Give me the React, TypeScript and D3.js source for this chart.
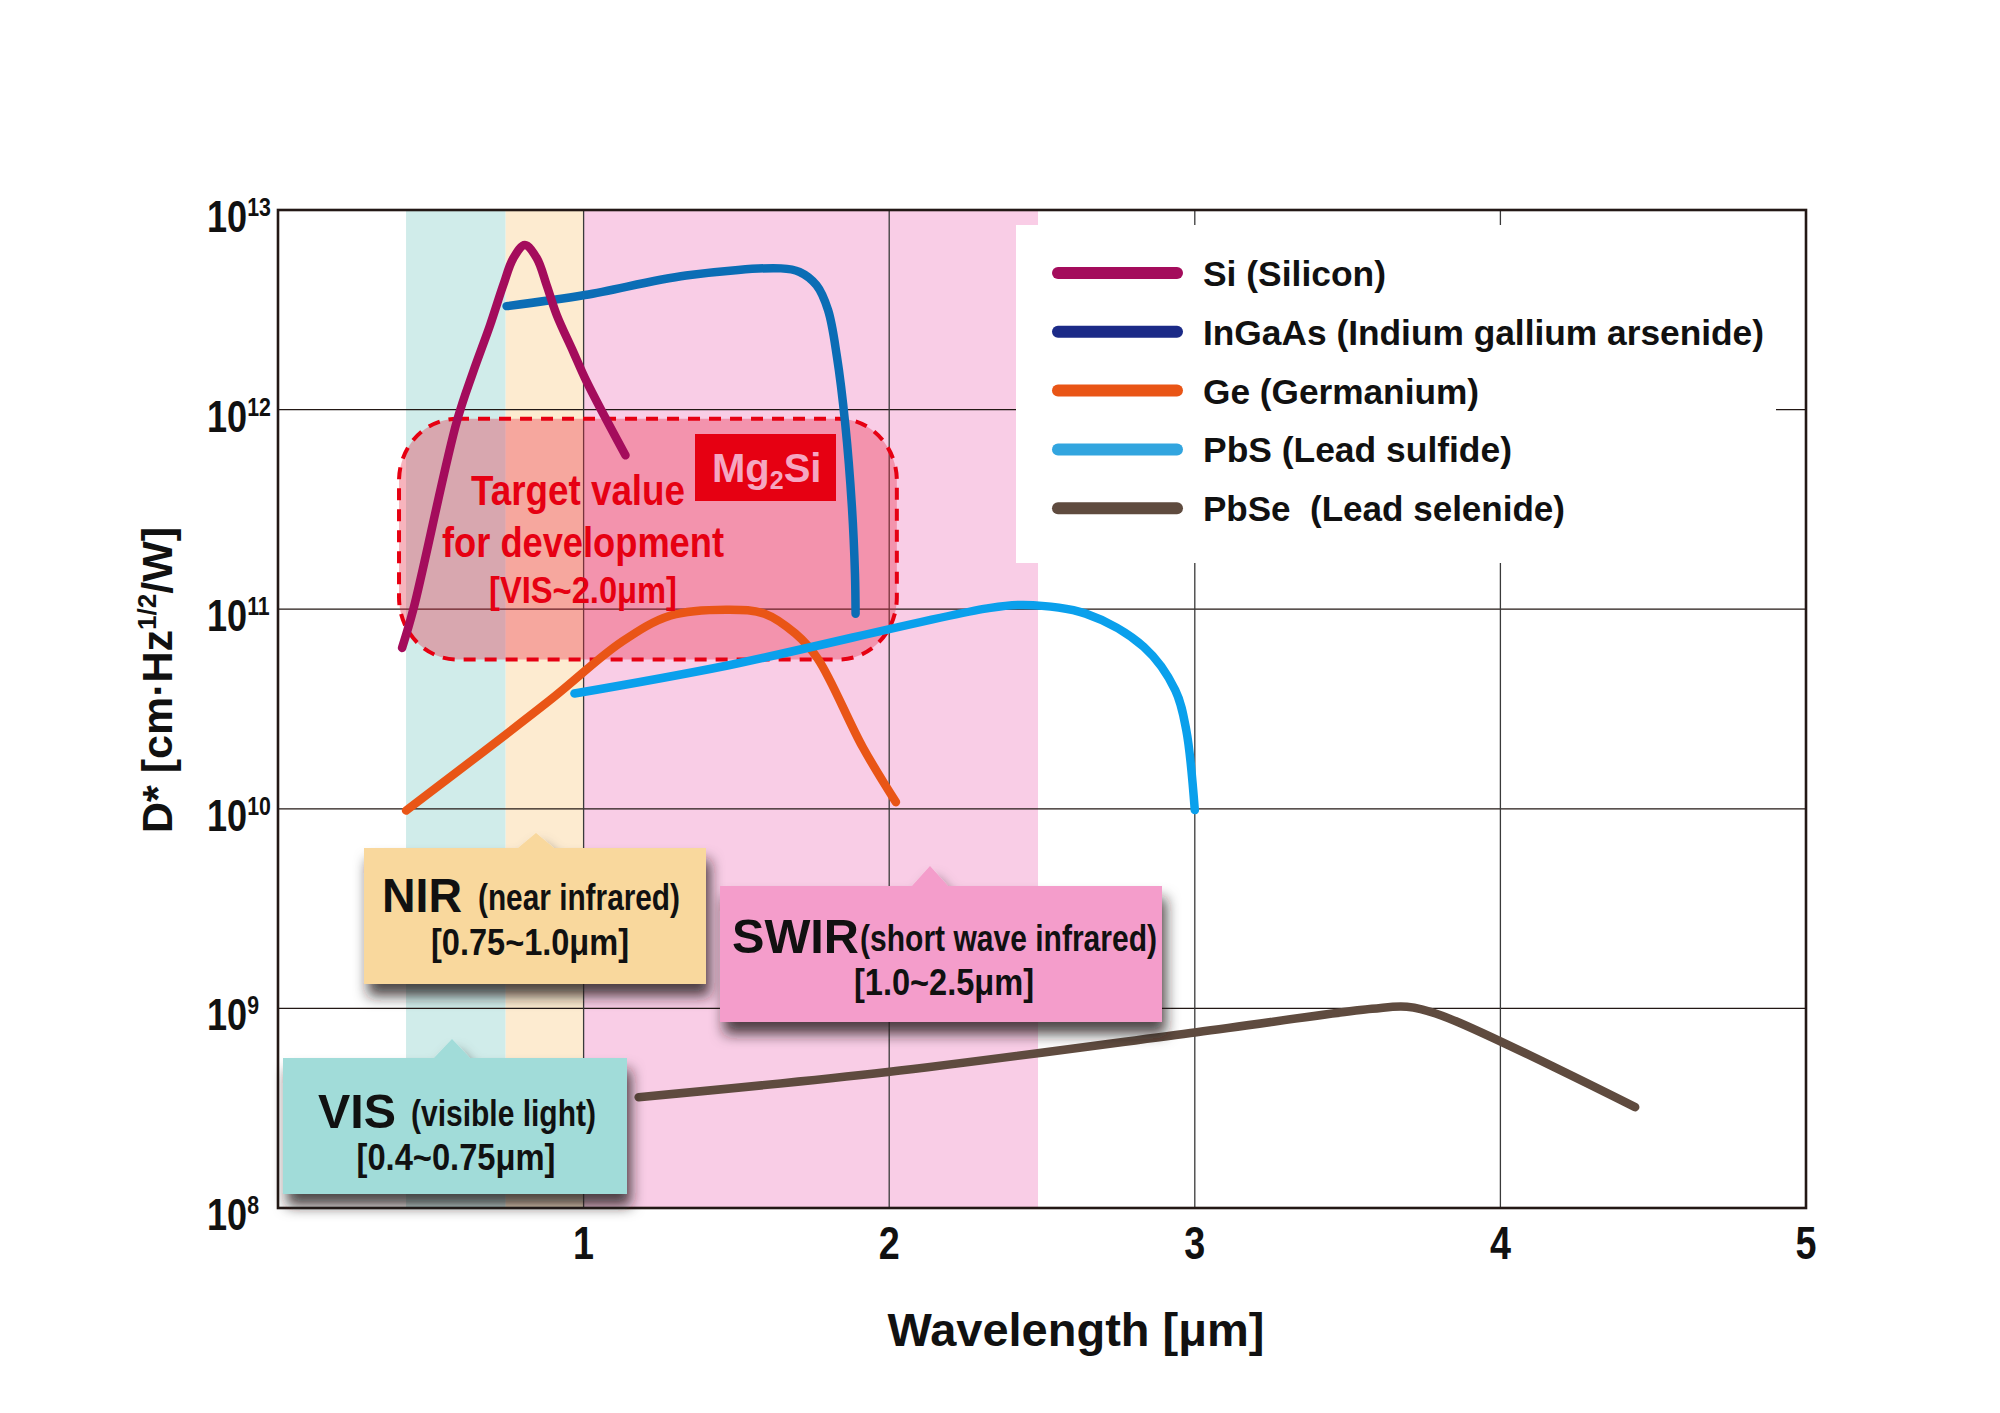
import * as d3 from "d3";

const W = 2000;
const H = 1413;
const FONT = "'Liberation Sans', Arial, Helvetica, sans-serif";

// axis ticks
const wavelengthTicks = [1, 2, 3, 4, 5];
const decadeExponents = [8, 9, 10, 11, 12, 13];

// spectral bands [µm]
const bandNames = ["VIS", "NIR", "SWIR"];
const bandStart = [0.419, 0.745, 1.0];
const bandEnd = [0.745, 1.0, 2.487];
const bandFill = ["#d0ecea", "#fdebd0", "#f9cde6"];

// detectivity curves: [wavelength µm, D*]
const siCurve: [number, number][] = [
  [0.406, 6.4e10], [0.443, 1.0e11], [0.585, 8.7e11], [0.639, 1.55e12], [0.694, 2.65e12],
  [0.737, 4.2e12], [0.77, 5.73e12], [0.808, 6.68e12], [0.847, 5.73e12], [0.879, 4.2e12],
  [0.912, 2.98e12], [0.966, 1.95e12], [1.01, 1.38e12], [1.137, 5.9e11],
];
const ingaasCurve: [number, number][] = [
  [0.748, 3.3e12], [1.004, 3.75e12], [1.335, 4.7e12], [1.646, 5.1e12], [1.706, 4.9e12],
  [1.762, 4.2e12], [1.8, 3.15e12], [1.829, 1.84e12], [1.856, 8.5e11], [1.878, 3.26e11],
  [1.888, 1.5e11], [1.89, 9.5e10],
];
const geCurve: [number, number][] = [
  [0.419, 9.8e9], [0.89, 3.5e10], [1.124, 6.85e10], [1.285, 9.3e10], [1.475, 9.95e10],
  [1.592, 9.5e10], [1.693, 7.55e10], [1.766, 5.66e10], [1.913, 2.04e10], [2.022, 1.08e10],
];
const pbsCurve: [number, number][] = [
  [0.97, 3.78e10], [1.475, 5.24e10], [2.321, 1.01e11], [2.439, 1.05e11], [2.643, 9.5e10],
  [2.833, 6.47e10], [2.936, 3.93e10], [2.972, 2.48e10], [3.0, 9.85e9],
];
const pbseCurve: [number, number][] = [
  [1.18, 3.59e8], [1.995, 4.8e8], [3.006, 7.6e8], [3.58, 9.95e8], [3.694, 1.02e9],
  [3.809, 9.2e8], [4.441, 3.2e8],
];

const seriesLabels = [
  "Si (Silicon)",
  "InGaAs (Indium gallium arsenide)",
  "Ge (Germanium)",
  "PbS (Lead sulfide)",
  "PbSe\u00a0\u00a0(Lead selenide)",
];
const seriesCurves = [siCurve, ingaasCurve, geCurve, pbsCurve, pbseCurve];
const lineColors = ["#a40c5c", "#0b6db5", "#e95516", "#0aa0ec", "#5f4b3f"];
const legendColors = ["#a40c5c", "#1b2a87", "#e95516", "#32a5df", "#5f4b3f"];
const drawOrder = [2, 3, 4, 1, 0];

// Mg2Si development target region
const targetWavelength = [0.396, 2.025];
const targetDetectivity = [9.0e11, 5.6e10];

// layout (pixels)
const plot = { left: 278, right: 1806, top: 210, bottom: 1208 };
const legendBox = { x0: 1016, x1: 1776, y0: 225, y1: 563 };
const legendTextW = [183, 561, 276, 309, 362];

type Callout = {
  fill: string;
  x0: number; x1: number; y0: number; y1: number;
  tipX: number; tipY: number;
  big: string; bigX: number; bigW: number;
  small: string; smallX: number; smallW: number;
  baseline: number;
  range: string; rangeX: number; rangeW: number; rangeY: number;
};

const callouts: Callout[] = [
  {
    fill: "#f9d89d", x0: 364, x1: 706, y0: 848, y1: 984, tipX: 536, tipY: 833,
    big: "NIR", bigX: 382, bigW: 80, small: "(near infrared)", smallX: 478, smallW: 202,
    baseline: 912, range: "[0.75~1.0μm]", rangeX: 530, rangeW: 198, rangeY: 955,
  },
  {
    fill: "#f49dcb", x0: 720, x1: 1162, y0: 886, y1: 1022, tipX: 930, tipY: 866,
    big: "SWIR", bigX: 732, bigW: 127, small: "(short wave infrared)", smallX: 860, smallW: 297,
    baseline: 953, range: "[1.0~2.5μm]", rangeX: 944, rangeW: 180, rangeY: 995,
  },
  {
    fill: "#a1dcd9", x0: 283, x1: 627, y0: 1058, y1: 1194, tipX: 452, tipY: 1039,
    big: "VIS", bigX: 318, bigW: 78, small: "(visible light)", smallX: 411, smallW: 185,
    baseline: 1128, range: "[0.4~0.75μm]", rangeX: 456, rangeW: 199, rangeY: 1170,
  },
];

function Txt(props: {
  x: number; y: number; w?: number; size: number; fill?: string;
  anchor?: "start" | "middle" | "end"; children: string;
}) {
  const { x, y, w, size, fill = "#111", anchor = "start", children } = props;
  return (
    <text
      x={x}
      y={y}
      fontSize={size}
      fontWeight={700}
      fill={fill}
      textAnchor={anchor}
      textLength={w}
      lengthAdjust={w ? "spacingAndGlyphs" : undefined}
    >
      {children}
    </text>
  );
}

export default function App() {
  const x = d3.scaleLinear().domain([0, 5]).range([plot.left, plot.right]);
  const y = d3.scaleLog().domain([1e8, 1e13]).range([plot.bottom, plot.top]);

  const line = d3
    .line<[number, number]>()
    .x((d) => x(d[0]))
    .y((d) => y(d[1]))
    .curve(d3.curveCatmullRom.alpha(0.5));

  const tx0 = x(targetWavelength[0]);
  const tx1 = x(targetWavelength[1]);
  const ty0 = y(targetDetectivity[0]);
  const ty1 = y(targetDetectivity[1]);

  return (
    <svg
      width={W}
      height={H}
      viewBox={`0 0 ${W} ${H}`}
      style={{ position: "absolute", left: 0, top: 0, background: "#fff", fontFamily: FONT }}
    >
      <defs>
        <filter id="drop" x="-20%" y="-30%" width="150%" height="180%">
          <feDropShadow dx="4" dy="12" stdDeviation="7" floodColor="#241a1a" floodOpacity="0.8" />
        </filter>
        <clipPath id="plot-clip">
          <rect x={plot.left} y={plot.top} width={plot.right - plot.left} height={plot.bottom - plot.top} />
        </clipPath>
      </defs>

      {/* bands */}
      {bandNames.map((name, i) => (
        <rect
          key={name}
          x={x(bandStart[i])}
          y={plot.top}
          width={x(bandEnd[i]) - x(bandStart[i])}
          height={plot.bottom - plot.top}
          fill={bandFill[i]}
        />
      ))}

      {/* grid */}
      {decadeExponents.map((e) => (
        <line key={`h${e}`} x1={plot.left} x2={plot.right} y1={y(10 ** e)} y2={y(10 ** e)} stroke="#231815" strokeWidth={1.3} />
      ))}
      {wavelengthTicks.map((t) => (
        <line key={`v${t}`} x1={x(t)} x2={x(t)} y1={plot.top} y2={plot.bottom} stroke="#3a3a3a" strokeWidth={1.3} />
      ))}

      {/* legend background (hides grid) */}
      <rect x={legendBox.x0} y={legendBox.y0} width={legendBox.x1 - legendBox.x0} height={legendBox.y1 - legendBox.y0} fill="#fff" />

      {/* target region */}
      <rect
        x={tx0}
        y={ty0}
        width={tx1 - tx0}
        height={ty1 - ty0}
        rx={58}
        ry={62}
        fill="rgba(232,40,65,0.35)"
        stroke="#e60012"
        strokeWidth={4}
        strokeDasharray="12 9"
      />

      {/* curves */}
      <g clipPath="url(#plot-clip)">
        {drawOrder.map((i) => (
          <path
            key={seriesLabels[i]}
            d={line(seriesCurves[i]) ?? ""}
            fill="none"
            stroke={lineColors[i]}
            strokeWidth={8.5}
            strokeLinecap="round"
            strokeLinejoin="round"
          />
        ))}
      </g>

      {/* target labels */}
      <Txt x={471} y={505} w={214} size={42} fill="#e60012">Target value</Txt>
      <Txt x={442} y={557} w={282} size={42} fill="#e60012">for development</Txt>
      <Txt x={489} y={603} w={188} size={36} fill="#e60012">[VIS~2.0μm]</Txt>
      <rect x={695} y={434} width={141} height={67} fill="#e60012" />
      <text x={712} y={482} fontSize={40} fontWeight={700} fill="#f5a6c1">
        Mg<tspan fontSize={25} dy={7}>2</tspan><tspan dy={-7}>Si</tspan>
      </text>

      {/* frame */}
      <rect x={plot.left} y={plot.top} width={plot.right - plot.left} height={plot.bottom - plot.top} fill="none" stroke="#231815" strokeWidth={2.6} />

      {/* legend */}
      {seriesLabels.map((label, i) => {
        const cy = 273 + i * 58.8;
        return (
          <g key={label}>
            <line x1={1058} x2={1177} y1={cy} y2={cy} stroke={legendColors[i]} strokeWidth={12} strokeLinecap="round" />
            <Txt x={1203} y={cy + 13} w={legendTextW[i]} size={35}>{label}</Txt>
          </g>
        );
      })}

      {/* callouts */}
      {callouts.map((c) => (
        <g key={c.big}>
          <path
            d={`M${c.x0},${c.y0}L${c.tipX - 18},${c.y0}L${c.tipX},${c.tipY}L${c.tipX + 18},${c.y0}L${c.x1},${c.y0}L${c.x1},${c.y1}L${c.x0},${c.y1}Z`}
            fill={c.fill}
            filter="url(#drop)"
          />
          <Txt x={c.bigX} y={c.baseline} w={c.bigW} size={48}>{c.big}</Txt>
          <Txt x={c.smallX} y={c.baseline - 2} w={c.smallW} size={36}>{c.small}</Txt>
          <Txt x={c.rangeX} y={c.rangeY} w={c.rangeW} size={37} anchor="middle">{c.range}</Txt>
        </g>
      ))}

      {/* y tick labels: 10 with superscript exponent */}
      {decadeExponents.map((e) => (
        <g key={`yl${e}`} transform={`translate(207,${y(10 ** e) + 22}) scale(0.82,1)`}>
          <text x={0} y={0} fontSize={44} fontWeight={700} fill="#111">
            10<tspan fontSize={26} dy={-16}>{e}</tspan>
          </text>
        </g>
      ))}

      {/* x tick labels */}
      {wavelengthTicks.map((t) => (
        <Txt key={`xl${t}`} x={x(t)} y={1259} w={21} size={46} anchor="middle">{String(t)}</Txt>
      ))}

      {/* axis titles */}
      <Txt x={1076} y={1346} w={377} size={46} anchor="middle">Wavelength [μm]</Txt>
      <text transform="translate(172,680) rotate(-90)" textAnchor="middle" fontSize={43} fontWeight={700} fill="#111">
        D* [cm·Hz<tspan fontSize={26} dy={-16}>1/2</tspan><tspan dy={16}>/W]</tspan>
      </text>
    </svg>
  );
}
